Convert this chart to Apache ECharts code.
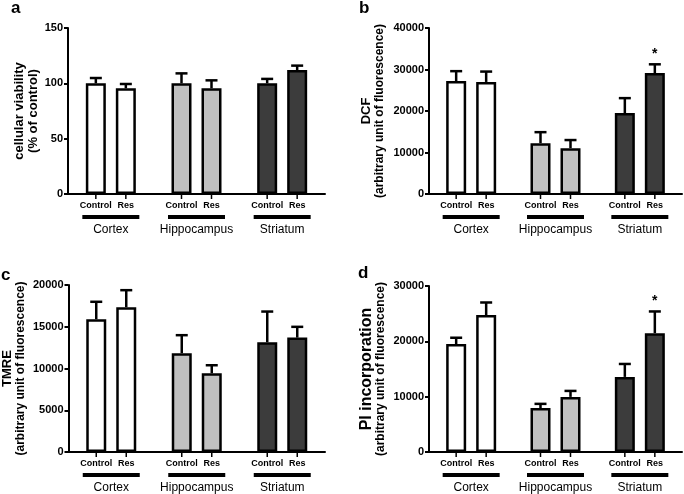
<!DOCTYPE html>
<html>
<head>
<meta charset="utf-8">
<script src="https://cdn.jsdelivr.net/npm/echarts@6/dist/echarts.min.js"></script>
<style>
  html, body { margin: 0; padding: 0; background: #fff; }
  #chart { width: 684px; height: 494px; }
</style>
</head>
<body>
<div id="chart"></div>
<script>
var groups = ['Cortex', 'Hippocampus', 'Striatum'];
var treatments = ['Control', 'Res'];
var groupColors = ['#ffffff', '#c0c0c0', '#3c3c3c'];

// a - cellular viability (% of control)
var viabilityControl = [100, 100, 100];
var viabilityControlErr = [4.8, 9, 4];
var viabilityRes = [95.5, 95.5, 112];
var viabilityResErr = [3.9, 7.2, 4];

// b - DCF
var dcfControl = [27200, 12250, 19500];
var dcfControlErr = [2400, 2650, 3600];
var dcfRes = [27000, 11050, 29150];
var dcfResErr = [2500, 1950, 2100];

// c - TMRE
var tmreControl = [15900, 11830, 13140];
var tmreControlErr = [2090, 2160, 3680];
var tmreRes = [17340, 9430, 13700];
var tmreResErr = [2040, 960, 1290];

// d - PI incorporation
var piControl = [19510, 7930, 13570];
var piControlErr = [1140, 770, 2340];
var piRes = [24740, 9960, 21480];
var piResErr = [2280, 1080, 3920];

// significance marks (*), per group, for Res
var dcfResSig = [0, 0, 1];
var piResSig = [0, 0, 1];

var yMax = [150, 40000, 20000, 30000];
var yStep = [50, 10000, 5000, 10000];

var panels = [
  { letter: 'a', control: viabilityControl, controlErr: viabilityControlErr, res: viabilityRes, resErr: viabilityResErr, sig: [0, 0, 0],
    title: 'cellular viability', sub: '(% of control)', subBig: true,
    grid: { left: 68, top: 28, width: 257, height: 166 }, nameGap: 28, letterPos: { left: 11, top: 0 } },
  { letter: 'b', control: dcfControl, controlErr: dcfControlErr, res: dcfRes, resErr: dcfResErr, sig: dcfResSig,
    title: 'DCF', sub: '(arbitrary unit of fluorescence)',
    grid: { left: 429, top: 28, width: 253, height: 166 }, nameGap: 43, letterPos: { left: 359, top: 0 } },
  { letter: 'c', control: tmreControl, controlErr: tmreControlErr, res: tmreRes, resErr: tmreResErr, sig: [0, 0, 0],
    title: 'TMRE', sub: '(arbitrary unit of fluorescence)',
    grid: { left: 68, top: 285, width: 257, height: 167 }, nameGap: 41, letterPos: { left: 1, top: 267 } },
  { letter: 'd', control: piControl, controlErr: piControlErr, res: piRes, resErr: piResErr, sig: piResSig,
    title: 'PI incorporation', sub: '(arbitrary unit of fluorescence)',
    grid: { left: 429, top: 286, width: 253, height: 166 }, nameGap: 42, letterPos: { left: 358, top: 265 } }
];

var titleSize = { a: 13, b: 13, c: 13, d: 16 };

function renderErr(params, api) {
  var g = api.value(0), t = api.value(1), mean = api.value(2), err = api.value(3), sig = api.value(4);
  var off = t === 0 ? -15 : 15;
  var x = api.coord([g, mean])[0] + off;
  var yMean = api.coord([g, mean])[1];
  var yTop = api.coord([g, mean + err])[1];
  var y0 = api.coord([g, 0])[1];
  var st = { stroke: '#000', lineWidth: 2.5 };
  var children = [
    { type: 'line', shape: { x1: x, y1: yMean, x2: x, y2: yTop }, style: st },
    { type: 'line', shape: { x1: x - 6, y1: yTop, x2: x + 6, y2: yTop }, style: st },
    { type: 'line', shape: { x1: x, y1: y0 + 1, x2: x, y2: y0 + 5 }, style: { stroke: '#000', lineWidth: 1.5 } }
  ];
  if (sig) {
    children.push({ type: 'text', style: { text: '*', x: x, y: yTop - 10, align: 'center', verticalAlign: 'middle',
      fontSize: 14, fontWeight: 'bold', fill: '#000', fontFamily: 'Liberation Sans' } });
  }
  return { type: 'group', children: children };
}

var grids = [], xAxes = [], yAxes = [], series = [], titles = [];

panels.forEach(function (p, i) {
  grids.push(p.grid);
  titles.push({ text: p.letter, left: p.letterPos.left, top: p.letterPos.top, padding: 0,
    textStyle: { fontSize: 17, fontWeight: 'bold', color: '#000', fontFamily: 'Liberation Sans' } });
  xAxes.push({
    type: 'category', gridIndex: i, data: groups,
    axisLine: { lineStyle: { color: '#000', width: 2 } },
    axisTick: { show: false },
    axisLabel: {
      margin: 21, interval: 0, color: '#000',
      formatter: function (v) { return '{line| }\n{name|' + v + '}'; },
      rich: {
        line: { width: 57, height: 4, lineHeight: 4, fontSize: 4, backgroundColor: '#000' },
        name: { fontSize: 12, lineHeight: 22, color: '#000', fontFamily: 'Liberation Sans' }
      }
    }
  });
  yAxes.push({
    type: 'value', gridIndex: i, min: 0, max: yMax[i], interval: yStep[i],
    splitLine: { show: false },
    axisLine: { show: true, lineStyle: { color: '#000', width: 2 } },
    axisTick: { show: true, length: 4, lineStyle: { color: '#000', width: 2 } },
    axisLabel: { margin: 5, fontSize: 11, fontWeight: 'bold', color: '#000', fontFamily: 'Liberation Sans',
      formatter: function (v) { return String(v); } },
    name: '{t|' + p.title + '}\n{' + (p.subBig ? 't' : 's') + '|' + p.sub + '}',
    nameLocation: 'middle', nameRotate: 90, nameGap: p.nameGap,
    nameTextStyle: {
      rich: {
        t: { fontSize: titleSize[p.letter], fontWeight: 'bold', lineHeight: 14, color: '#000', fontFamily: 'Liberation Sans' },
        s: { fontSize: 12, fontWeight: 'bold', lineHeight: 13, color: '#000', fontFamily: 'Liberation Sans' }
      }
    }
  });

  [[p.control, p.controlErr], [p.res, p.resErr]].forEach(function (d, t) {
    series.push({
      type: 'bar', name: treatments[t], xAxisIndex: i, yAxisIndex: i,
      barWidth: 20, barGap: '50%',
      data: d[0].map(function (v, g) {
        return { value: v, itemStyle: { color: groupColors[g] } };
      }),
      itemStyle: { borderColor: '#000', borderWidth: 2.5 },
      label: { show: true, position: 'bottom', distance: 7, formatter: treatments[t],
        fontSize: 9, fontWeight: 'bold', color: '#000', fontFamily: 'Liberation Sans' },
      emphasis: { disabled: true }
    });
  });

  var errData = [];
  groups.forEach(function (gName, g) {
    errData.push([g, 0, p.control[g], p.controlErr[g], 0]);
    errData.push([g, 1, p.res[g], p.resErr[g], p.sig[g]]);
  });
  series.push({
    type: 'custom', xAxisIndex: i, yAxisIndex: i, renderItem: renderErr,
    encode: { x: 0, y: 2 }, data: errData, z: 5, clip: false
  });
});

var chart = echarts.init(document.getElementById('chart'), null, { renderer: 'canvas' });
chart.setOption({
  animation: false,
  backgroundColor: '#fff',
  textStyle: { fontFamily: 'Liberation Sans' },
  title: titles,
  grid: grids,
  xAxis: xAxes,
  yAxis: yAxes,
  series: series
});
</script>
</body>
</html>
